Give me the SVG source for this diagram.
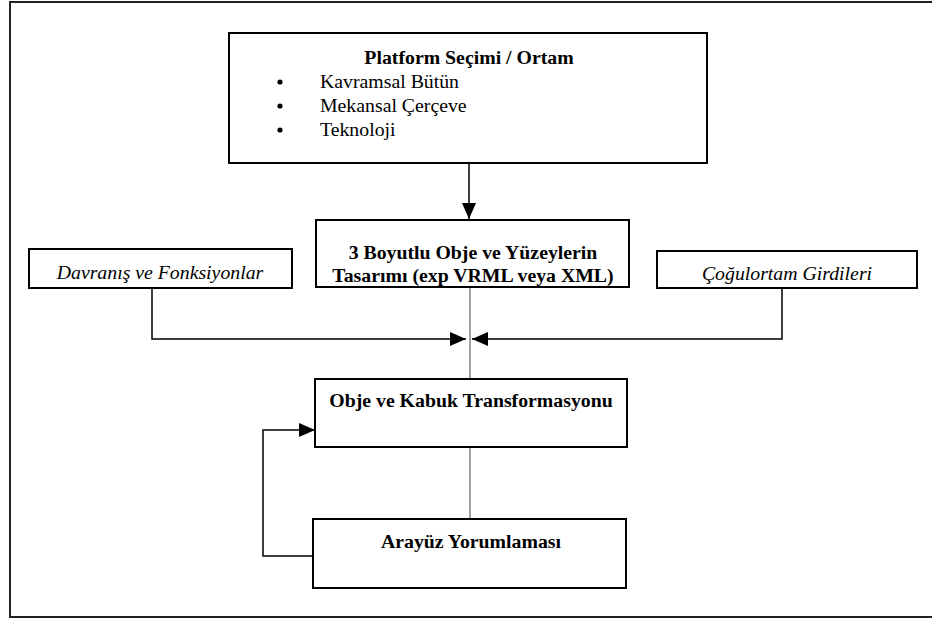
<svg xmlns="http://www.w3.org/2000/svg" width="932" height="621" viewBox="0 0 932 621">
<defs>
<style>
.box{fill:#fff;stroke:#000;stroke-width:2}
.frame{fill:none;stroke:#222;stroke-width:2}
.b{font-weight:bold;text-anchor:middle}
.i{font-style:italic;text-anchor:middle}
.c{fill:none;stroke:#000;stroke-width:1.5}
.g{fill:none;stroke:#808080;stroke-width:1.5}
</style>
<marker id="ah" viewBox="0 0 16 14" refX="16" refY="7" markerWidth="16" markerHeight="14" markerUnits="userSpaceOnUse" orient="auto">
<path d="M0,0 L16,7 L0,14 Z" fill="#000"/>
</marker>
</defs>
<rect width="932" height="621" fill="#fff"/>
<path class="frame" d="M933,2 H10 V617 H933"/>
<g id="connectors">
<path class="c" d="M469,163 V219" marker-end="url(#ah)"/>
<path class="g" d="M470,287 V379"/>
<path class="c" d="M152,288 V339 H466" marker-end="url(#ah)"/>
<path class="c" d="M782,288 V339 H472" marker-end="url(#ah)"/>
<path class="g" d="M470,447 V519"/>
<path class="c" d="M313,556 H263 V430 H315" marker-end="url(#ah)"/>
</g>
<g font-family="'Liberation Serif', 'Times New Roman', serif" font-size="19.8" fill="#000">
<g id="platform">
<rect class="box" x="229" y="33" width="478" height="130"/>
<text class="b" x="469" y="64">Platform Seçimi / Ortam</text>
<circle cx="280" cy="82" r="2.6" fill="#000"/>
<circle cx="280" cy="106" r="2.6" fill="#000"/>
<circle cx="280" cy="130" r="2.6" fill="#000"/>
<text x="320" y="88">Kavramsal Bütün</text>
<text x="320" y="112">Mekansal Çerçeve</text>
<text x="320" y="136">Teknoloji</text>
</g>
<g id="tasarim">
<rect class="box" x="316" y="220" width="313" height="67"/>
<text class="b" x="473" y="259">3 Boyutlu Obje ve Yüzeylerin</text>
<text class="b" x="473" y="282">Tasarımı (exp VRML veya XML)</text>
</g>
<g id="davranis">
<rect class="box" x="29" y="249" width="263" height="39"/>
<text class="i" x="160" y="279">Davranış ve Fonksiyonlar</text>
</g>
<g id="cogulortam">
<rect class="box" x="657" y="251" width="260" height="37"/>
<text class="i" x="787" y="280">Çoğulortam Girdileri</text>
</g>
<g id="obje">
<rect class="box" x="315" y="379" width="312" height="68"/>
<text class="b" x="471" y="407">Obje ve Kabuk Transformasyonu</text>
</g>
<g id="arayuz">
<rect class="box" x="313" y="519" width="313" height="69"/>
<text class="b" x="471" y="548">Arayüz Yorumlaması</text>
</g>
</g>
</svg>
